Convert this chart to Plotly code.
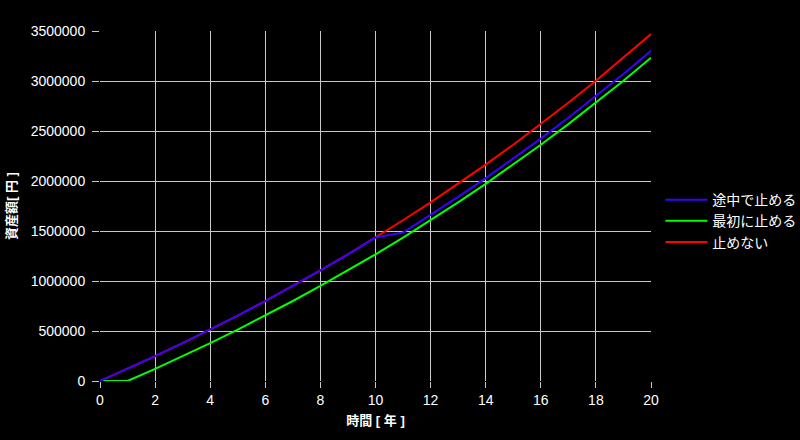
import plotly.graph_objects as go

years = list(range(0, 21))

# 止めない (never stop)
never_stop = [0, 121944, 248225, 378998, 514423, 654662, 799889, 950280, 1106022,
              1267303, 1434322, 1607280, 1786389, 1971867, 2163943, 2362851,
              2568833, 2782138, 3003034, 3231789, 3468672]
# 最初に止める (stop at first year)
stop_first = [0, 0, 121944, 248225, 378998, 514423, 654662, 799889, 950280,
              1106022, 1267303, 1434322, 1607280, 1786389, 1971867, 2163943,
              2362851, 2568833, 2782138, 3003034, 3231789]
# 途中で止める (stop midway)
stop_mid = [0, 121944, 248225, 378998, 514423, 654662, 799889, 950280, 1106022,
            1267303, 1434322, 1485336, 1660109, 1841099, 2028525, 2222617,
            2423611, 2631753, 2847299, 3070511, 3301659]

names = ["途中で止める", "最初に止める", "止めない"]
colors = ["#3a00ff", "#00ff00", "#ff0000"]

font_family = "Liberation Sans, Arial, Noto Sans CJK JP, sans-serif"

fig = go.Figure()
# draw red first, green, then blue on top; legend order via legendrank
fig.add_trace(go.Scatter(x=years, y=never_stop, mode="lines", name=names[2],
                         line=dict(color=colors[2], width=2), legendrank=3))
fig.add_trace(go.Scatter(x=years, y=stop_first, mode="lines", name=names[1],
                         line=dict(color=colors[1], width=2), legendrank=2))
fig.add_trace(go.Scatter(x=years, y=stop_mid, mode="lines", name=names[0],
                         line=dict(color=colors[0], width=2), legendrank=1))

fig.update_layout(
    width=800, height=440,
    paper_bgcolor="black", plot_bgcolor="black",
    margin=dict(l=100, r=149, t=31, b=59, autoexpand=False),
    font=dict(family=font_family, size=14, color="white"),
    legend=dict(x=1.017, y=0.457, xanchor="left", yanchor="middle",
                bgcolor="rgba(0,0,0,0)", font=dict(size=14, color="white"),
                itemwidth=42, tracegroupgap=0),
    showlegend=True,
)
fig.update_xaxes(
    range=[0, 20], dtick=2, tick0=0,
    showgrid=True, gridcolor="#c8c8c8", gridwidth=1,
    zeroline=False, showline=False,
    ticks="outside", ticklen=6, tickcolor="#c8c8c8",
    tickfont=dict(size=14, color="white"),
    title=dict(text="<b>時間 [ 年 ]</b>", font=dict(size=13, color="white"), standoff=9),
)
fig.update_yaxes(
    range=[0, 3500000], dtick=500000, tick0=0, tickformat="d",
    showgrid=True, gridcolor="#c8c8c8", gridwidth=1,
    zeroline=False, showline=False,
    ticks="outside", ticklen=7, tickcolor="#c8c8c8", ticklabelstandoff=4,
    tickfont=dict(size=14, color="white"),
    title=dict(text="<b>資産額[ 円 ]</b>", font=dict(size=13, color="white"), standoff=11),
)

fig.write_html(
    "out.html",
    config={"displayModeBar": False},
    post_script="document.body.style.margin='0';"
                "document.body.style.background='black';"
                "document.documentElement.style.background='black';",
)
